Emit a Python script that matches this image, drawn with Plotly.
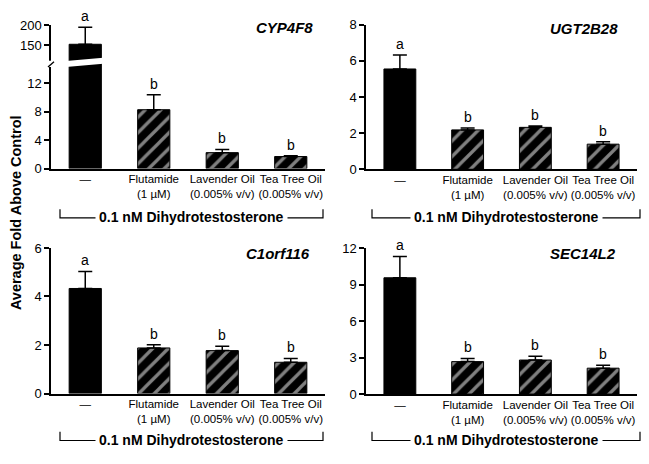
import plotly.graph_objects as go

W, H = 649, 464

categories = ["Control", "Flutamide", "Lavender", "TeaTree"]
tick_labels = ["—", "Flutamide<br>(1 µM)", "Lavender Oil<br>(0.005% v/v)", "Tea Tree Oil<br>(0.005% v/v)"]
letters = ["a", "b", "b", "b"]

genes = ["CYP4F8", "UGT2B28", "C1orf116", "SEC14L2"]

cyp4f8_mean = [152, 8.3, 2.25, 1.7]
cyp4f8_err = [43, 2.1, 0.45, 0.12]
ugt2b28_mean = [5.55, 2.18, 2.32, 1.39]
ugt2b28_err = [0.78, 0.1, 0.08, 0.14]
c1orf116_mean = [4.33, 1.88, 1.77, 1.29]
c1orf116_err = [0.7, 0.13, 0.18, 0.16]
sec14l2_mean = [9.57, 2.67, 2.8, 2.13]
sec14l2_err = [1.76, 0.26, 0.32, 0.24]

bracket_label = "0.1 nM Dihydrotestosterone"
y_title = "Average Fold Above Control"

FONT = "Liberation Sans, Arial, sans-serif"
NARROW = "Liberation Sans Narrow, Arial Narrow, Liberation Sans, sans-serif"


def px(x):
    return x / W


def py(y):
    return 1 - y / H


XL = [px(51), px(325)]
XR = [px(366), px(637)]

fig = go.Figure()

panels = [
    ("x", "y", XL, [py(167), py(59)], [0, 14.73], [0, 4, 8, 12], cyp4f8_mean, cyp4f8_err),
    ("x2", "y2", XR, [py(167.7), py(18.3)], [0, 8], [0, 2, 4, 6, 8], ugt2b28_mean, ugt2b28_err),
    ("x3", "y3", XL, [py(399.5), py(249)], [0, 6], [0, 2, 4, 6], c1orf116_mean, c1orf116_err),
    ("x4", "y4", XR, [py(400), py(249.3)], [0, 12], [0, 3, 6, 9, 12], sec14l2_mean, sec14l2_err),
]

patterns = ["", "/", "/", "/"]


def bar_trace(xa, ya, means, errs):
    return go.Bar(
        x=categories, y=means, xaxis=xa, yaxis=ya, width=0.47,
        marker=dict(color="black", line=dict(color="black", width=1),
                    pattern=dict(shape=patterns, bgcolor="black", fgcolor="white",
                                 size=11, solidity=0.3)),
        error_y=dict(type="data", symmetric=False, array=errs, arrayminus=[0] * 4,
                     color="black", thickness=1.5, width=7),
        showlegend=False, hoverinfo="skip",
    )


axis_common = dict(showline=True, linecolor="black", linewidth=1.5, showgrid=False,
                   zeroline=False, mirror=False)

layout = dict(width=W, height=H, margin=dict(l=0, r=0, t=0, b=0),
              paper_bgcolor="white", plot_bgcolor="rgba(0,0,0,0)",
              font=dict(family=FONT, color="black"), bargap=0.5)

for i, (xa, ya, xdom, ydom, yr, tv, means, errs) in enumerate(panels):
    fig.add_trace(bar_trace(xa, ya, means, errs))
    xk = "xaxis" if xa == "x" else "xaxis" + xa[1:]
    yk = "yaxis" if ya == "y" else "yaxis" + ya[1:]
    layout[xk] = dict(domain=xdom, anchor=ya, range=[-0.5, 3.5], type="category",
                      tickmode="array", tickvals=categories, ticktext=tick_labels,
                      ticks="", tickangle=0, tickfont=dict(family=NARROW, size=11.5),
                      ticklabelstandoff=-1, **axis_common)
    layout[yk] = dict(domain=ydom, anchor=xa, range=yr, tickmode="array", tickvals=tv,
                      ticks="outside", ticklen=5, tickwidth=1.5, tickcolor="black",
                      tickfont=dict(family=FONT, size=13), **axis_common)

# upper broken segment for CYP4F8
fig.add_trace(bar_trace("x", "y5", cyp4f8_mean, cyp4f8_err))
layout["yaxis5"] = dict(domain=[py(59), py(19)], anchor="x", range=[101.6, 200],
                        tickmode="array", tickvals=[150, 200],
                        ticks="outside", ticklen=5, tickwidth=1.5, tickcolor="black",
                        tickfont=dict(family=FONT, size=13), **axis_common)

fig.update_layout(**layout)

annotations = []
shapes = []

axis_pairs = [("x", "y"), ("x2", "y2"), ("x3", "y3"), ("x4", "y4")]
for (xa, ya), (_, _, _, _, yr, _, means, errs) in zip(axis_pairs, panels):
    for c, m, e, L in zip(categories, means, errs, letters):
        top = m + e
        yref = ya
        if xa == "x" and top > yr[1]:
            yref = "y5"
        annotations.append(dict(x=c, y=top, xref=xa, yref=yref, text=L, showarrow=False,
                                yanchor="bottom", yshift=1,
                                font=dict(family=FONT, size=14, color="black")))

gene_pos = [(315, 21), (620, 22), (312, 255), (618, 255)]
for g, (gx, gy) in zip(genes, gene_pos):
    annotations.append(dict(x=px(gx), y=py(gy), xref="paper", yref="paper", text="<b><i>%s</i></b>" % g,
                            showarrow=False, xanchor="right", yanchor="middle",
                            font=dict(family=FONT, size=15, color="black")))

brackets = [(60, 323, 209, 218), (372, 640, 209, 218), (60, 323, 439, 448), (372, 640, 439, 448)]
for x0, x1, yt, yb in brackets:
    shapes.append(dict(type="path", xref="paper", yref="paper",
                       path="M %f,%f L %f,%f L %f,%f L %f,%f" % (px(x0), py(yt), px(x0), py(yb),
                                                             px(x1), py(yb), px(x1), py(yt)),
                       line=dict(color="black", width=1.2)))
    annotations.append(dict(x=px((x0 + x1) / 2), y=py(yb - 1), xref="paper", yref="paper",
                            text="<b>%s</b>" % bracket_label, showarrow=False,
                            xanchor="center", yanchor="middle", bgcolor="white", borderpad=3,
                            font=dict(family=FONT, size=14, color="black")))

annotations.append(dict(x=px(16), y=py(213), xref="paper", yref="paper", text="<b>%s</b>" % y_title,
                        textangle=-90, showarrow=False, xanchor="center", yanchor="middle",
                        font=dict(family=FONT, size=14.5, color="black")))

# axis break: white band across the first bar and the axis
shapes.append(dict(type="path", xref="paper", yref="paper", layer="above",
                   path="M %f,%f L %f,%f L %f,%f L %f,%f Z" % (px(66), py(55.7), px(106), py(52.3),
                                                              px(106), py(58.3), px(66), py(62)),
                   fillcolor="white", line=dict(width=0)))
shapes.append(dict(type="rect", xref="paper", yref="paper", layer="above",
                   x0=px(48), x1=px(54), y0=py(62), y1=py(55.5),
                   fillcolor="white", line=dict(width=0)))
shapes.append(dict(type="line", xref="paper", yref="paper", layer="above",
                   x0=px(48), y0=py(62), x1=px(54), y1=py(56.5),
                   line=dict(color="black", width=1.3)))

fig.update_layout(annotations=annotations, shapes=shapes)

fig.write_html("out.html", config={"displayModeBar": False},
               post_script="document.body.style.margin='0px';")
